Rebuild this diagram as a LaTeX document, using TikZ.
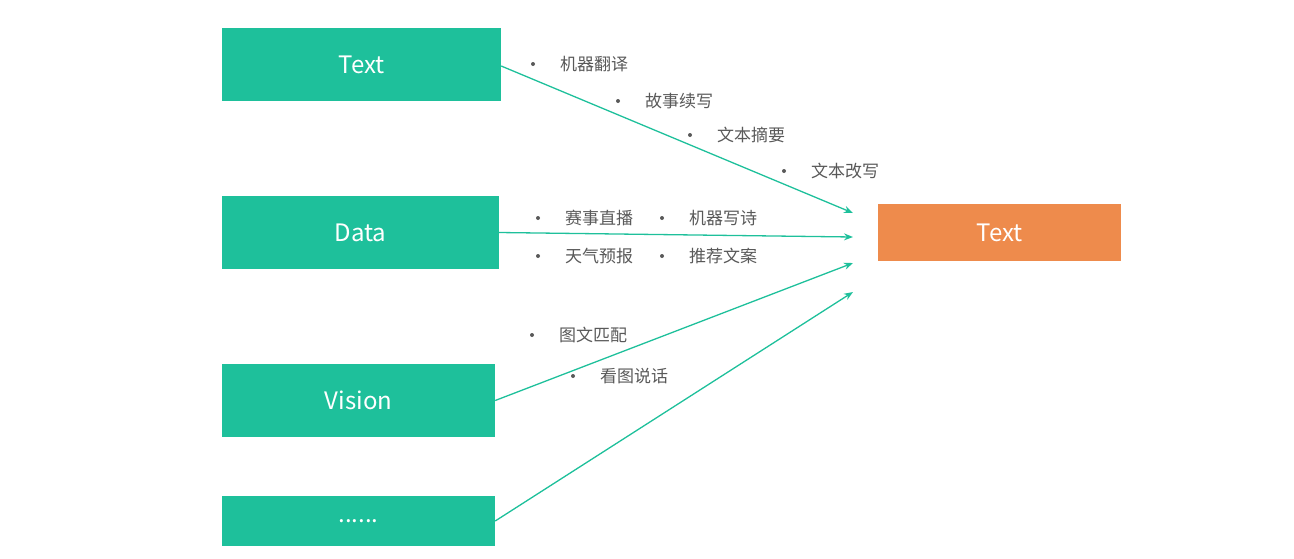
\documentclass[tikz,border=0pt]{standalone}
\usepackage{fontspec}
\setmainfont{Noto Sans CJK SC}
\usetikzlibrary{arrows.meta}
\definecolor{gr}{HTML}{1EC09B}
\definecolor{og}{HTML}{EE8B4C}
\definecolor{tx}{HTML}{595959}
\tikzset{
 box/.style={fill=#1,draw=none,text=white,font=\fontsize{24}{28}\selectfont,inner sep=0pt},
 conn/.style={draw=gr,line width=1.3pt,-{Stealth[length=9pt,width=7pt]}},
 lab/.style={text=tx,font=\fontsize{17}{20}\selectfont,anchor=west,inner sep=0pt},
 dot/.style={circle,fill=tx,inner sep=0pt,minimum size=4pt}
}
\begin{document}
\begin{tikzpicture}[x=1pt,y=-1pt]
\useasboundingbox (0,0) rectangle (1294,558);
\node[box=gr,minimum width=279pt,minimum height=73pt] (t) at (361.5,64.5) {Text};
\node[box=gr,minimum width=277pt,minimum height=73pt] (d) at (360.5,232.5) {Data};
\node[box=gr,minimum width=273pt,minimum height=73pt] (v) at (358.5,400.5) {Vision};
\node[box=gr,minimum width=273pt,minimum height=50pt] (e) at (358.5,521) {......};
\node[box=og,minimum width=243pt,minimum height=57pt] (o) at (999.5,232.5) {Text};
\coordinate (a1) at (853,213);
\coordinate (a2) at (853,237);
\coordinate (a3) at (853,263);
\coordinate (a4) at (853,292);
\draw[conn] (t.east) ++(0,1.5) -- (a1);
\draw[conn] (d.east) -- (a2);
\draw[conn] (v.east) -- (a3);
\draw[conn] (e.east) -- (a4);
\foreach \bx/\y/\s [count=\i] in {533/64/机器翻译, 618/101/故事续写, 690/135/文本摘要, 784/171/文本改写, 538/218/赛事直播, 662/218/机器写诗, 538/256/天气预报, 662/256/推荐文案, 532/335/图文匹配, 573/376/看图说话}{
 \node[dot] (b\i) at (\bx,\y) {};
 \node[lab] (l\i) at (\bx+27,\y) {\s};
}
\end{tikzpicture}
\end{document}
